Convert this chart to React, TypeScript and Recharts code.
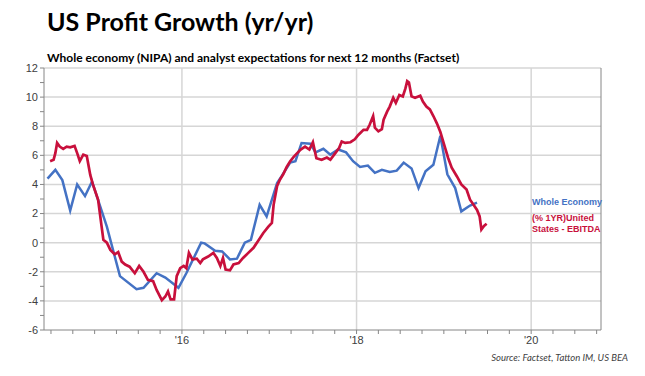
import { Line, LineChart, ReferenceLine, XAxis, YAxis } from "recharts";

// Whole economy (NIPA)
const blueDates = [
  2014.46, 2014.55, 2014.63, 2014.72, 2014.8, 2014.89, 2014.97, 2015.14, 2015.29, 2015.48,
  2015.56, 2015.71, 2015.81, 2015.96, 2016.05, 2016.22, 2016.26, 2016.38, 2016.46, 2016.55,
  2016.63, 2016.72, 2016.79, 2016.89, 2016.97, 2017.09, 2017.14, 2017.24, 2017.3, 2017.37,
  2017.47, 2017.53, 2017.62, 2017.7, 2017.79, 2017.88, 2017.96, 2018.04, 2018.13, 2018.21,
  2018.29, 2018.38, 2018.46, 2018.54, 2018.63, 2018.71, 2018.79, 2018.88, 2018.96, 2019.04,
  2019.13, 2019.2, 2019.3, 2019.38,
];
const blueValues = [
  4.4, 5.0, 4.3, 2.2, 4.0, 3.2, 4.2, 1.1, -2.3, -3.2,
  -3.1, -2.1, -2.4, -3.1, -2.1, 0.0, -0.05, -0.55, -0.6, -1.15,
  -1.1, 0.0, 0.2, 2.6, 1.8, 4.1, 4.55, 5.5, 5.6, 6.85,
  6.8, 6.2, 6.45, 6.05, 6.4, 6.2, 5.6, 5.2, 5.3, 4.8,
  5.0, 4.85, 4.95, 5.5, 5.1, 3.75, 4.9, 5.35, 7.35, 4.7,
  3.75, 2.15, 2.55, 2.75,
];

// (% 1YR) United States - EBITDA, analyst expectations
const redDates = [
  2014.49, 2014.53, 2014.55, 2014.57, 2014.6, 2014.64, 2014.68, 2014.72, 2014.77, 2014.8,
  2014.83, 2014.87, 2014.91, 2014.95, 2014.98, 2015.04, 2015.08, 2015.1, 2015.14, 2015.18,
  2015.23, 2015.27, 2015.31, 2015.35, 2015.4, 2015.46, 2015.51, 2015.56, 2015.61, 2015.67,
  2015.71, 2015.77, 2015.81, 2015.84, 2015.87, 2015.91, 2015.94, 2015.98, 2016.02, 2016.05,
  2016.08, 2016.12, 2016.17, 2016.21, 2016.24, 2016.3, 2016.36, 2016.4, 2016.44, 2016.47,
  2016.5, 2016.55, 2016.59, 2016.65, 2016.7, 2016.76, 2016.82, 2016.87, 2016.93, 2016.99,
  2017.03, 2017.05, 2017.09, 2017.12, 2017.16, 2017.2, 2017.24, 2017.28, 2017.32, 2017.36,
  2017.41, 2017.46, 2017.5, 2017.54, 2017.6, 2017.66, 2017.7, 2017.75, 2017.8, 2017.83,
  2017.87, 2017.93, 2017.98, 2018.02, 2018.08, 2018.12, 2018.15, 2018.19, 2018.21, 2018.25,
  2018.29, 2018.31, 2018.35, 2018.38, 2018.42, 2018.45, 2018.49, 2018.53, 2018.56, 2018.58,
  2018.6, 2018.63, 2018.67, 2018.73, 2018.76, 2018.8, 2018.84, 2018.88, 2018.92, 2018.96,
  2019.01, 2019.05, 2019.09, 2019.15, 2019.2, 2019.26, 2019.3, 2019.34, 2019.38, 2019.41,
  2019.43, 2019.46, 2019.49,
];
const redValues = [
  5.6, 5.7, 6.15, 6.85, 6.6, 6.45, 6.6, 6.55, 6.65, 6.15,
  5.6, 6.05, 5.95, 4.65, 4.0, 2.95, 1.1, 0.2, 0.0, -0.5,
  -0.8, -0.65, -1.3, -1.5, -1.65, -2.1, -1.6, -2.0, -2.55, -2.65,
  -3.25, -3.95, -3.7, -3.35, -3.9, -3.9, -2.3, -1.75, -1.6, -1.75,
  -0.7, -1.15, -1.1, -1.4, -1.15, -0.95, -0.7, -1.05, -1.6, -1.05,
  -1.85, -1.9, -1.5, -1.4, -1.05, -0.7, -0.35, 0.1, 0.65, 1.1,
  1.35, 2.6, 3.9, 4.3, 4.7, 5.2, 5.6, 5.9, 6.15, 6.4,
  6.6, 6.4, 6.9, 5.8, 5.7, 5.85, 5.7, 6.1, 6.5, 6.95,
  6.85, 6.9, 7.1, 7.4, 7.75, 7.75, 8.1, 8.7, 7.9, 7.65,
  7.8, 8.45, 9.0, 9.35, 9.95, 9.6, 10.15, 10.05, 10.6, 11.1,
  11.0, 10.05, 9.95, 10.1, 9.7, 9.35, 9.15, 8.7, 8.2, 7.6,
  6.6, 5.8, 5.15, 4.55, 4.0, 3.65, 2.95, 2.6, 2.25, 1.8,
  0.9, 1.15, 1.3,
];

// quarterly minor ticks on the date axis, labels only on even years
const xTicks = [
  2014.5, 2014.75, 2015, 2015.25, 2015.5, 2015.75, 2016, 2016.25, 2016.5, 2016.75,
  2017, 2017.25, 2017.5, 2017.75, 2018, 2018.25, 2018.5, 2018.75, 2019, 2019.25,
  2019.5, 2019.75, 2020, 2020.25, 2020.5, 2020.75,
];
const labelYears = [2016, 2018, 2020];
const yTicks = [-6, -5, -4, -3, -2, -1, 0, 1, 2, 3, 4, 5, 6, 7, 8, 9, 10, 11, 12];
const gridValues = [-4, -2, 0, 2, 4, 6, 8, 10, 12];

const blueData = blueDates.map((d, i) => ({ date: d, value: blueValues[i] }));
const redData = redDates.map((d, i) => ({ date: d, value: redValues[i] }));

const BLUE = "#4472C4";
const RED = "#C8103C";
const GRID = "#D6D6D6";
const AXIS = "#868686";
const tickFont = { fontSize: 11, fill: "#404040", fontFamily: "'Liberation Sans', Arial, sans-serif" };

export default function App() {
  return (
    <div style={{ position: "absolute", left: 0, top: 0, width: 645, height: 376, background: "#fff" }}>
      <div
        style={{
          position: "absolute", left: 47, top: 6, fontFamily: "Lato, sans-serif",
          fontWeight: 700, fontSize: 25, color: "#000", whiteSpace: "nowrap",
        }}
      >
        US Profit Growth (yr/yr)
      </div>
      <div
        style={{
          position: "absolute", left: 47, top: 50, fontFamily: "Lato, sans-serif",
          fontWeight: 700, fontSize: 12, color: "#000", whiteSpace: "nowrap",
        }}
      >
        Whole economy (NIPA) and analyst expectations for next 12 months (Factset)
      </div>

      <LineChart width={645} height={376} data={redData} margin={{ top: 68, right: 8, bottom: 16, left: 8 }}>
        {gridValues.map((v) => (
          <ReferenceLine key={"h" + v} y={v} yAxisId="left" stroke={GRID} strokeWidth={1.5} />
        ))}
        {labelYears.map((v) => (
          <ReferenceLine key={"v" + v} x={v} yAxisId="left" stroke={GRID} strokeWidth={1.5} />
        ))}
        <XAxis
          dataKey="date"
          type="number"
          domain={[2014.42, 2020.8]}
          allowDataOverflow
          ticks={xTicks}
          interval={0}
          height={30}
          stroke={AXIS}
          tickSize={4}
          tick={tickFont}
          tickFormatter={(v: number) => (labelYears.includes(v) ? "'" + String(v).slice(2) : "")}
        />
        <YAxis
          yAxisId="left"
          orientation="left"
          domain={[-6, 12]}
          ticks={yTicks}
          interval={0}
          width={36}
          stroke={AXIS}
          tickSize={4}
          tick={tickFont}
          tickFormatter={(v: number) => (v % 2 === 0 ? String(v) : "")}
        />
        <YAxis
          yAxisId="right"
          orientation="right"
          domain={[-6, 12]}
          ticks={yTicks}
          interval={0}
          width={36}
          stroke={AXIS}
          tickSize={4}
          tick={tickFont}
          tickFormatter={(v: number) => (v % 2 === 0 ? String(v) : "")}
        />
        <Line
          data={blueData}
          yAxisId="left"
          dataKey="value"
          type="linear"
          stroke={BLUE}
          strokeWidth={2.5}
          dot={false}
          isAnimationActive={false}
        />
        <Line
          data={redData}
          yAxisId="left"
          dataKey="value"
          type="linear"
          stroke={RED}
          strokeWidth={2.7}
          dot={false}
          isAnimationActive={false}
        />
      </LineChart>

      <div
        style={{
          position: "absolute", left: 532, top: 197, fontFamily: "'Liberation Sans', Arial, sans-serif",
          fontWeight: 700, fontSize: 9, color: BLUE, whiteSpace: "nowrap",
        }}
      >
        Whole Economy
      </div>
      <div
        style={{
          position: "absolute", left: 532, top: 213, fontFamily: "'Liberation Sans', Arial, sans-serif",
          fontWeight: 700, fontSize: 9, lineHeight: "11px", color: RED, whiteSpace: "nowrap",
        }}
      >
        (% 1YR)United
        <br />
        States - EBITDA
      </div>
      <div
        style={{
          position: "absolute", right: 17, top: 352, fontFamily: "Lato, sans-serif",
          fontStyle: "italic", fontSize: 9.5, color: "#404040", whiteSpace: "nowrap",
        }}
      >
        Source: Factset, Tatton IM, US BEA
      </div>
    </div>
  );
}
